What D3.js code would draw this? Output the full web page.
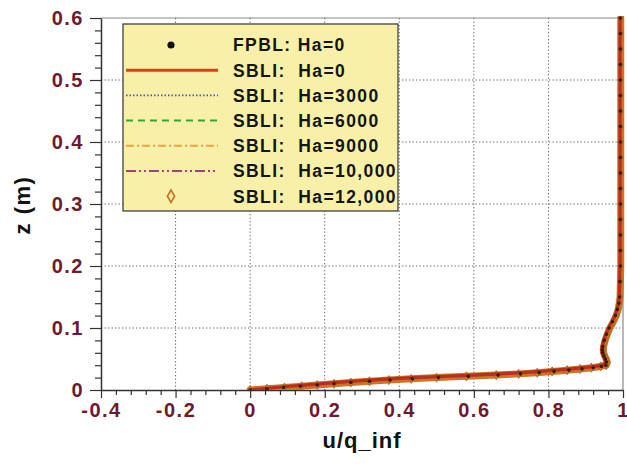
<!DOCTYPE html>
<html>
<head>
<meta charset="utf-8">
<script src="https://cdn.jsdelivr.net/npm/d3@7/dist/d3.min.js"></script>
<style>
  html, body { margin: 0; padding: 0; background: #ffffff; }
  svg { display: block; }
  text { font-family: "Liberation Sans", Arial, sans-serif; font-weight: bold; }
</style>
</head>
<body>
<svg id="chart" width="627" height="465"></svg>
<script>
// Wall-normal positions z (m) shared by every profile
const zGrid = [0, 0.002, 0.004, 0.006, 0.008, 0.010, 0.012, 0.014, 0.016, 0.018,
  0.020, 0.022, 0.024, 0.026, 0.028, 0.030, 0.032, 0.034, 0.036, 0.038,
  0.040, 0.045, 0.050, 0.055, 0.060, 0.065, 0.070, 0.080, 0.090, 0.100,
  0.110, 0.120, 0.130, 0.140, 0.150, 0.175, 0.200, 0.225, 0.250, 0.275,
  0.300, 0.325, 0.350, 0.375, 0.400, 0.425, 0.450, 0.475, 0.500, 0.525,
  0.550, 0.575, 0.600];

// Velocity ratio u/q_inf for each case
const uFPBL = [0, 0.045, 0.09, 0.135, 0.18, 0.225, 0.27, 0.32, 0.375, 0.435,
  0.505, 0.585, 0.665, 0.725, 0.775, 0.815, 0.855, 0.89, 0.92, 0.942,
  0.954, 0.956, 0.953, 0.949, 0.946, 0.945, 0.946, 0.950, 0.956, 0.963,
  0.972, 0.980, 0.985, 0.989, 0.991, 0.992, 0.993, 0.993, 0.993, 0.993,
  0.993, 0.993, 0.993, 0.993, 0.993, 0.993, 0.993, 0.993, 0.993, 0.993,
  0.993, 0.993, 0.993];
const uHa0 = [0, 0.03, 0.068, 0.105, 0.145, 0.185, 0.225, 0.27, 0.32, 0.375,
  0.44, 0.52, 0.60, 0.67, 0.73, 0.78, 0.82, 0.86, 0.895, 0.926,
  0.946, 0.953, 0.951, 0.947, 0.944, 0.943, 0.944, 0.948, 0.954, 0.961,
  0.970, 0.978, 0.984, 0.988, 0.990, 0.991, 0.992, 0.992, 0.992, 0.992,
  0.992, 0.992, 0.992, 0.992, 0.992, 0.992, 0.992, 0.992, 0.992, 0.992,
  0.992, 0.992, 0.992];
const uHa3000 = [0, 0.037, 0.078, 0.12, 0.16, 0.2, 0.242, 0.29, 0.34, 0.395,
  0.46, 0.54, 0.62, 0.69, 0.745, 0.79, 0.83, 0.87, 0.905, 0.932,
  0.95, 0.955, 0.953, 0.948, 0.945, 0.944, 0.946, 0.950, 0.956, 0.963,
  0.971, 0.979, 0.985, 0.989, 0.991, 0.992, 0.993, 0.993, 0.993, 0.993,
  0.993, 0.993, 0.993, 0.993, 0.993, 0.993, 0.993, 0.993, 0.993, 0.993,
  0.993, 0.993, 0.993];
const uHa6000 = [0, 0.038, 0.08, 0.122, 0.163, 0.205, 0.248, 0.295, 0.345, 0.40,
  0.47, 0.55, 0.63, 0.695, 0.75, 0.795, 0.835, 0.872, 0.905, 0.932,
  0.95, 0.956, 0.953, 0.949, 0.946, 0.945, 0.946, 0.950, 0.956, 0.964,
  0.972, 0.980, 0.985, 0.989, 0.991, 0.992, 0.993, 0.993, 0.993, 0.993,
  0.993, 0.993, 0.993, 0.993, 0.993, 0.993, 0.993, 0.993, 0.993, 0.993,
  0.993, 0.993, 0.993];
const uHa9000 = [0, 0.039, 0.082, 0.125, 0.166, 0.21, 0.253, 0.30, 0.35, 0.41,
  0.48, 0.56, 0.64, 0.70, 0.755, 0.80, 0.838, 0.875, 0.907, 0.933,
  0.951, 0.956, 0.954, 0.949, 0.946, 0.945, 0.946, 0.951, 0.957, 0.964,
  0.972, 0.980, 0.986, 0.989, 0.991, 0.992, 0.993, 0.993, 0.993, 0.993,
  0.993, 0.993, 0.993, 0.993, 0.993, 0.993, 0.993, 0.993, 0.993, 0.993,
  0.993, 0.993, 0.993];
const uHa10000 = [0, 0.04, 0.083, 0.127, 0.168, 0.212, 0.256, 0.305, 0.355, 0.415,
  0.485, 0.565, 0.645, 0.705, 0.757, 0.80, 0.84, 0.875, 0.908, 0.934,
  0.951, 0.957, 0.954, 0.950, 0.946, 0.945, 0.946, 0.951, 0.957, 0.964,
  0.972, 0.980, 0.986, 0.989, 0.991, 0.992, 0.993, 0.993, 0.993, 0.993,
  0.993, 0.993, 0.993, 0.993, 0.993, 0.993, 0.993, 0.993, 0.993, 0.993,
  0.993, 0.993, 0.993];
const uHa12000 = [0, 0.045, 0.092, 0.138, 0.18, 0.225, 0.27, 0.32, 0.372, 0.432,
  0.50, 0.58, 0.66, 0.72, 0.77, 0.81, 0.85, 0.885, 0.915, 0.94,
  0.955, 0.958, 0.955, 0.951, 0.948, 0.947, 0.948, 0.952, 0.958, 0.965,
  0.974, 0.982, 0.987, 0.990, 0.992, 0.993, 0.994, 0.994, 0.994, 0.994,
  0.994, 0.994, 0.994, 0.994, 0.994, 0.994, 0.994, 0.994, 0.994, 0.994,
  0.994, 0.994, 0.994];

// Axis ticks and labels
const xTicks = [-0.4, -0.2, 0, 0.2, 0.4, 0.6, 0.8, 1];
const xTickLabels = ["-0.4", "-0.2", "0", "0.2", "0.4", "0.6", "0.8", "1"];
const yTicks = [0, 0.1, 0.2, 0.3, 0.4, 0.5, 0.6];
const yTickLabels = ["0", "0.1", "0.2", "0.3", "0.4", "0.5", "0.6"];
const xMinorTicks = [-0.36, -0.32, -0.28, -0.24, -0.16, -0.12, -0.08, -0.04,
  0.04, 0.08, 0.12, 0.16, 0.24, 0.28, 0.32, 0.36, 0.44, 0.48, 0.52, 0.56,
  0.64, 0.68, 0.72, 0.76, 0.84, 0.88, 0.92, 0.96];
const yMinorTicks = [0.02, 0.04, 0.06, 0.08, 0.12, 0.14, 0.16, 0.18,
  0.22, 0.24, 0.26, 0.28, 0.32, 0.34, 0.36, 0.38, 0.42, 0.44, 0.46, 0.48,
  0.52, 0.54, 0.56, 0.58];

const seriesNames = ["FPBL: Ha=0", "SBLI:  Ha=0", "SBLI:  Ha=3000", "SBLI:  Ha=6000",
  "SBLI:  Ha=9000", "SBLI:  Ha=10,000", "SBLI:  Ha=12,000"];

const svg = d3.select("#chart");
const L = 101, R = 623, T = 18, B = 390;

const x = d3.scaleLinear().domain([-0.4, 1]).range([L, R]);
const y = d3.scaleLinear().domain([0, 0.6]).range([B, T]);

// frame (top and right)
svg.append("path")
  .attr("d", `M${L},${T}H${R}V${B}`)
  .attr("fill", "none").attr("stroke", "#8a8a8a").attr("stroke-width", 1.2);

// dotted grid
const grid = svg.append("g").attr("stroke", "#666").attr("stroke-width", 1)
  .attr("stroke-dasharray", "1.3,2.2");
grid.selectAll("line.vx").data(xTicks.filter(v => v > -0.4 && v < 1)).join("line")
  .attr("x1", d => x(d)).attr("x2", d => x(d)).attr("y1", T).attr("y2", B);
grid.selectAll("line.hy").data(yTicks.filter(v => v > 0 && v < 0.6)).join("line")
  .attr("x1", L).attr("x2", R).attr("y1", d => y(d)).attr("y2", d => y(d));

// axes
const labelColor = "#6e1a2c";
const xAxis = svg.append("g").attr("transform", `translate(0,${B})`)
  .call(d3.axisBottom(x).tickValues(xTicks).tickSize(8).tickSizeOuter(0)
    .tickFormat((d, i) => xTickLabels[i]));
svg.append("g").attr("transform", `translate(0,${B})`)
  .call(d3.axisBottom(x).tickValues(xMinorTicks).tickSize(5).tickFormat(""))
  .call(g => g.select(".domain").remove());
const yAxis = svg.append("g").attr("transform", `translate(${L},0)`)
  .call(d3.axisLeft(y).tickValues(yTicks).tickSize(11).tickSizeOuter(0)
    .tickFormat((d, i) => yTickLabels[i]));
svg.append("g").attr("transform", `translate(${L},0)`)
  .call(d3.axisLeft(y).tickValues(yMinorTicks).tickSize(6).tickFormat(""))
  .call(g => g.select(".domain").remove());

svg.selectAll(".tick line").attr("stroke", "#333").attr("stroke-width", 1.2);
svg.selectAll(".domain").attr("stroke", "#333").attr("stroke-width", 1.5);
xAxis.selectAll(".tick text")
  .attr("fill", labelColor).attr("font-size", 20).attr("letter-spacing", 1.5)
  .attr("font-family", "Liberation Sans, Arial, sans-serif").attr("font-weight", "bold")
  .attr("dy", "0.8em");
yAxis.selectAll(".tick text")
  .attr("fill", labelColor).attr("font-size", 20).attr("letter-spacing", 1.5)
  .attr("font-family", "Liberation Sans, Arial, sans-serif").attr("font-weight", "bold")
  .attr("dx", "-0.15em");

// axis titles
svg.append("text").attr("x", (L + R) / 2).attr("y", 448).attr("text-anchor", "middle")
  .attr("font-size", 22).attr("letter-spacing", 1).attr("fill", "#111").text("u/q_inf");
svg.append("text").attr("transform", "translate(30,205) rotate(-90)")
  .attr("text-anchor", "middle").attr("font-size", 22).attr("letter-spacing", 1.5)
  .attr("fill", "#111").text("z (m)");

// profiles
const plot = svg.append("g");
svg.append("clipPath").attr("id", "clip").append("rect")
  .attr("x", L).attr("y", T - 2).attr("width", R - L + 2).attr("height", B - T + 2);
plot.attr("clip-path", "url(#clip)");

const toPts = u => u.map((v, i) => [v, zGrid[i]]);
const line = d3.line().x(d => x(d[0])).y(d => y(d[1]));

const styles = [
  { u: uHa3000, stroke: "#3a5bb0", width: 1.6, dash: "1.5,2" },
  { u: uHa6000, stroke: "#2eaa2e", width: 2, dash: "7,5" },
  { u: uHa9000, stroke: "#f0a040", width: 2, dash: "8,3,2,3" },
  { u: uHa10000, stroke: "#a8407a", width: 2, dash: "10,3,2,3,2,3" }
];
styles.forEach(s => {
  plot.append("path").datum(toPts(s.u)).attr("d", line)
    .attr("fill", "none").attr("stroke", s.stroke).attr("stroke-width", s.width)
    .attr("stroke-dasharray", s.dash);
});

// Ha=12,000 diamonds, densely packed into a band
plot.append("path").datum(toPts(uHa12000)).attr("d", line)
  .attr("fill", "none").attr("stroke", "#cf7426").attr("stroke-width", 7)
  .attr("stroke-linejoin", "round").attr("stroke-linecap", "round");
const diamond = d3.symbol().type(d3.symbolDiamond).size(24);
plot.selectAll("path.dm").data(toPts(uHa12000)).join("path").attr("class", "dm")
  .attr("transform", d => `translate(${x(d[0])},${y(d[1])})`)
  .attr("d", diamond).attr("fill", "#d67c2c").attr("stroke", "#b0601e").attr("stroke-width", 0.8);

// Ha=0 solid
plot.append("path").datum(toPts(uHa0)).attr("d", line)
  .attr("fill", "none").attr("stroke", "#b8301c").attr("stroke-width", 3.2)
  .attr("stroke-linejoin", "round");

// flat-plate boundary layer points
plot.selectAll("circle.fp").data(toPts(uFPBL)).join("circle").attr("class", "fp")
  .attr("cx", d => x(d[0])).attr("cy", d => y(d[1])).attr("r", 1.8).attr("fill", "#3a1a10");

// legend
const lg = svg.append("g");
lg.append("rect").attr("x", 123).attr("y", 24).attr("width", 275).attr("height", 187)
  .attr("fill", "#f8f0a8").attr("stroke", "#333").attr("stroke-width", 1.2);
const rowY = i => 45 + i * 25.2;
seriesNames.forEach((name, i) => {
  lg.append("text").attr("x", 233).attr("y", rowY(i)).attr("dy", "0.36em")
    .attr("font-size", 17.5).attr("letter-spacing", 1.4).attr("fill", "#151515")
    .attr("xml:space", "preserve").style("white-space", "pre").text(name);
});
lg.append("circle").attr("cx", 171).attr("cy", rowY(0)).attr("r", 3.6).attr("fill", "#111");
lg.append("line").attr("x1", 126).attr("x2", 218).attr("y1", rowY(1)).attr("y2", rowY(1))
  .attr("stroke", "#d8401e").attr("stroke-width", 3);
styles.forEach((s, k) => {
  lg.append("line").attr("x1", 126).attr("x2", 218).attr("y1", rowY(k + 2)).attr("y2", rowY(k + 2))
    .attr("stroke", s.stroke).attr("stroke-width", s.width).attr("stroke-dasharray", s.dash);
});
lg.append("path").attr("transform", `translate(171,${rowY(6)})`)
  .attr("d", d3.symbol().type(d3.symbolDiamond).size(45))
  .attr("fill", "#f5e6a0").attr("stroke", "#c07028").attr("stroke-width", 1.6);
</script>
</body>
</html>
